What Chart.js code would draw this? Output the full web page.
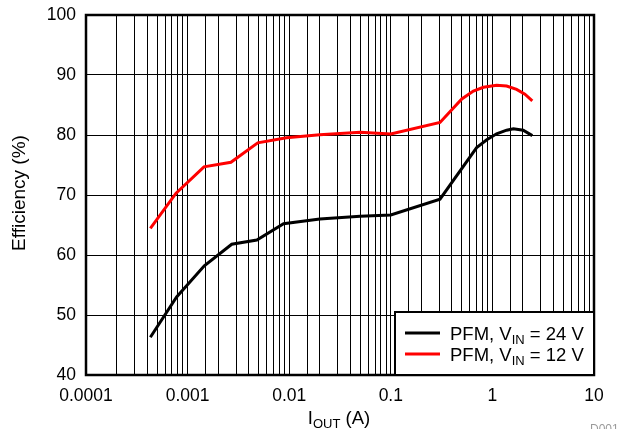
<!DOCTYPE html>
<html>
<head>
<meta charset="utf-8">
<script src="https://cdn.jsdelivr.net/npm/chart.js@4"></script>
<style>
  body { margin: 0; background: #fff; }
  #wrap { width: 629px; height: 429px; position: relative; }
</style>
</head>
<body>
<div id="wrap"><canvas id="myChart"></canvas></div>
<script>
// PFM, VIN = 24 V
const iout24 = [0.00043, 0.00078, 0.00146, 0.00272, 0.0048, 0.0088, 0.02, 0.05, 0.1, 0.305, 0.7, 0.88, 1.1, 1.38, 1.61, 2.01, 2.47];
const eff24 = [46.3, 53.0, 58.2, 61.8, 62.5, 65.2, 66.0, 66.45, 66.67, 69.3, 77.9, 79.2, 80.2, 80.8, 81.05, 80.8, 79.9];
// PFM, VIN = 12 V
const iout12 = [0.00043, 0.00077, 0.00145, 0.00267, 0.0049, 0.0094, 0.02, 0.05, 0.1, 0.305, 0.5, 0.65, 0.815, 1.1, 1.38, 1.73, 2.09, 2.47];
const eff12 = [64.45, 70.3, 74.7, 75.45, 78.7, 79.55, 80.05, 80.45, 80.17, 82.1, 86.0, 87.33, 87.95, 88.28, 88.17, 87.6, 86.8, 85.7];

const xTickLabels = ['0.0001', '0.001', '0.01', '0.1', '1', '10'];
const yTicks = [40, 50, 60, 70, 80, 90, 100];

const FONT = '"Liberation Sans", Arial, sans-serif';

function toPoints(xs, ys) {
    return xs.map((x, i) => ({ x: x, y: ys[i] }));
}

const series = [
    { label: 'PFM, V', sub: 'IN', tail: ' = 24 V', color: '#000000', data: toPoints(iout24, eff24) },
    { label: 'PFM, V', sub: 'IN', tail: ' = 12 V', color: '#ff0000', data: toPoints(iout12, eff12) }
];

// draws the frame, titles and legend (with subscripts)
const extras = {
    id: 'extras',
    afterDraw(chart) {
        const ctx = chart.ctx;
        const a = chart.chartArea;
        ctx.save();

        // plot frame
        ctx.strokeStyle = '#000';
        ctx.lineWidth = 2.5;
        ctx.strokeRect(a.left, a.top, a.right - a.left, a.bottom - a.top);

        // y title
        ctx.fillStyle = '#000';
        ctx.font = '19px ' + FONT;
        ctx.textAlign = 'center';
        ctx.textBaseline = 'middle';
        ctx.save();
        ctx.translate(20, 193);
        ctx.rotate(-Math.PI / 2);
        ctx.fillText('Efficiency (%)', 0, 0);
        ctx.restore();

        // x title: I_OUT (A)
        ctx.textAlign = 'left';
        ctx.textBaseline = 'alphabetic';
        const big = '18.5px ' + FONT, small = '13px ' + FONT;
        ctx.font = big;
        const wI = ctx.measureText('I').width;
        const wRest = ctx.measureText(' (A)').width;
        ctx.font = small;
        const wSub = ctx.measureText('OUT').width;
        let x0 = 339 - (wI + wSub + wRest) / 2;
        const base = 424;
        ctx.font = big;
        ctx.fillText('I', x0, base);
        ctx.font = small;
        ctx.fillText('OUT', x0 + wI, base + 4);
        ctx.font = big;
        ctx.fillText(' (A)', x0 + wI + wSub, base);

        // D001 mark
        ctx.fillStyle = '#9a9a9a';
        ctx.font = '12px ' + FONT;
        ctx.fillText('D001', 590, 433);

        // legend box
        const lx = 395, ly = 312, lw = a.right - lx, lh = a.bottom - ly;
        ctx.fillStyle = '#fff';
        ctx.fillRect(lx, ly, lw, lh);
        ctx.strokeStyle = '#000';
        ctx.lineWidth = 2;
        ctx.strokeRect(lx, ly, lw, lh);

        series.forEach((s, i) => {
            const cy = 333 + i * 21;
            ctx.strokeStyle = s.color;
            ctx.lineWidth = 3;
            ctx.beginPath();
            ctx.moveTo(405, cy);
            ctx.lineTo(440, cy);
            ctx.stroke();
            ctx.fillStyle = '#000';
            ctx.textBaseline = 'alphabetic';
            const by = cy + 6.5;
            let tx = 450;
            ctx.font = '18.5px ' + FONT;
            ctx.fillText(s.label, tx, by);
            tx += ctx.measureText(s.label).width;
            ctx.font = '13px ' + FONT;
            ctx.fillText(s.sub, tx, by + 4);
            tx += ctx.measureText(s.sub).width;
            ctx.font = '18.5px ' + FONT;
            ctx.fillText(s.tail, tx, by);
        });

        ctx.restore();
    }
};

function makeChart() {
    const ctx = document.getElementById('myChart');

    new Chart(ctx, {
        type: 'line',
        data: {
            datasets: series.map(s => ({
                label: s.label + s.sub + s.tail,
                data: s.data,
                borderColor: s.color,
                borderWidth: 3,
                pointRadius: 0,
                tension: 0,
                fill: false
            }))
        },
        options: {
            responsive: true,
            maintainAspectRatio: false,
            animation: false,
            layout: { padding: { top: 15, right: 35, left: 0, bottom: 0 } },
            plugins: {
                legend: { display: false },
                tooltip: { enabled: false }
            },
            scales: {
                x: {
                    type: 'logarithmic',
                    min: 0.0001,
                    max: 10,
                    afterFit(scale) {
                        scale.height = 54;
                        scale.paddingLeft = 0;
                        scale.paddingRight = 0;
                    },
                    grid: { color: '#000', lineWidth: 1, drawTicks: false },
                    border: { display: false },
                    ticks: {
                        color: '#000',
                        font: { family: FONT, size: 17.5 },
                        padding: 11,
                        maxRotation: 0,
                        autoSkip: false,
                        callback: function (value) {
                            const e = Math.log10(value);
                            if (Math.abs(e - Math.round(e)) < 1e-6) {
                                return xTickLabels[Math.round(e) + 4];
                            }
                            return '';
                        }
                    }
                },
                y: {
                    min: 40,
                    max: 100,
                    afterFit(scale) {
                        scale.width = 86;
                        scale.paddingTop = 0;
                        scale.paddingBottom = 0;
                    },
                    afterBuildTicks(scale) { scale.ticks = yTicks.map(v => ({ value: v })); },
                    grid: { color: '#000', lineWidth: 1, drawTicks: false },
                    border: { display: false },
                    ticks: {
                        color: '#000',
                        font: { family: FONT, size: 17.5 },
                        padding: 10
                    }
                }
            }
        },
        plugins: [extras]
    });
}

makeChart();
</script>
</body>
</html>
